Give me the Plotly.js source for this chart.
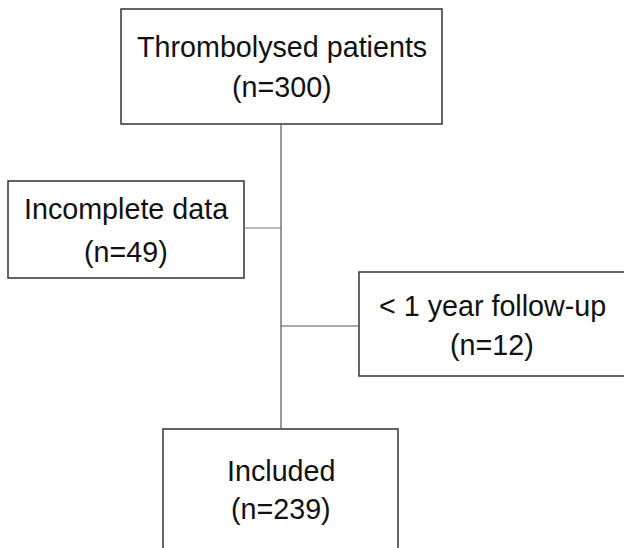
<!DOCTYPE html>
<html>
<head>
<meta charset="utf-8">
<script src="https://cdn.plot.ly/plotly-3.0.1.min.js"></script>
<style>html,body{margin:0;padding:0;background:#fff;}#chart{width:624px;height:548px;}</style>
</head>
<body>
<div id="chart"></div>
<script>
// Flowchart content
var stageLabels = ["Thrombolysed patients", "Incomplete data", "< 1 year follow-up", "Included"];
var stageCounts = [300, 49, 12, 239];

// Layout geometry (pixels, y downwards)
var boxes = [
  {x0: 121, x1: 442, y0: 9,   y1: 124, ty: 47,  cy: 87},
  {x0: 8,   x1: 244, y0: 181, y1: 278, ty: 209, cy: 252},
  {x0: 359, x1: 640, y0: 272, y1: 376, ty: 306, cy: 345},
  {x0: 163, x1: 398, y0: 429, y1: 570, ty: 471, cy: 509}
];
var textX = [282, 126, 492, 281];

var shapes = [];
var annotations = [];
boxes.forEach(function(b, i) {
  shapes.push({type: 'rect', xref: 'x', yref: 'y', x0: b.x0, x1: b.x1, y0: b.y0, y1: b.y1,
    line: {color: '#333333', width: 1.5}, fillcolor: 'rgba(0,0,0,0)'});
  annotations.push({x: textX[i], y: b.ty, xref: 'x', yref: 'y', text: stageLabels[i], showarrow: false,
    font: {family: 'Liberation Sans, Arial, sans-serif', size: 28.7, color: '#111111'}, xanchor: 'center', yanchor: 'middle'});
  annotations.push({x: textX[i], y: b.cy, xref: 'x', yref: 'y', text: '(n=' + stageCounts[i] + ')', showarrow: false,
    font: {family: 'Liberation Sans, Arial, sans-serif', size: 28.7, color: '#111111'}, xanchor: 'center', yanchor: 'middle'});
});
// connectors
shapes.push({type: 'line', x0: 281, x1: 281, y0: 124, y1: 429, line: {color: '#555555', width: 1.2}});
shapes.push({type: 'line', x0: 244, x1: 281, y0: 228, y1: 228, line: {color: '#777777', width: 1.2}});
shapes.push({type: 'line', x0: 281, x1: 359, y0: 326, y1: 326, line: {color: '#555555', width: 1.2}});

var layout = {
  width: 624, height: 548,
  margin: {l: 0, r: 0, t: 0, b: 0},
  paper_bgcolor: '#ffffff', plot_bgcolor: '#ffffff',
  xaxis: {range: [0, 624], visible: false, fixedrange: true},
  yaxis: {range: [548, 0], visible: false, fixedrange: true},
  shapes: shapes,
  annotations: annotations,
  showlegend: false
};
Plotly.newPlot('chart', [], layout, {staticPlot: true, displayModeBar: false});
</script>
</body>
</html>
